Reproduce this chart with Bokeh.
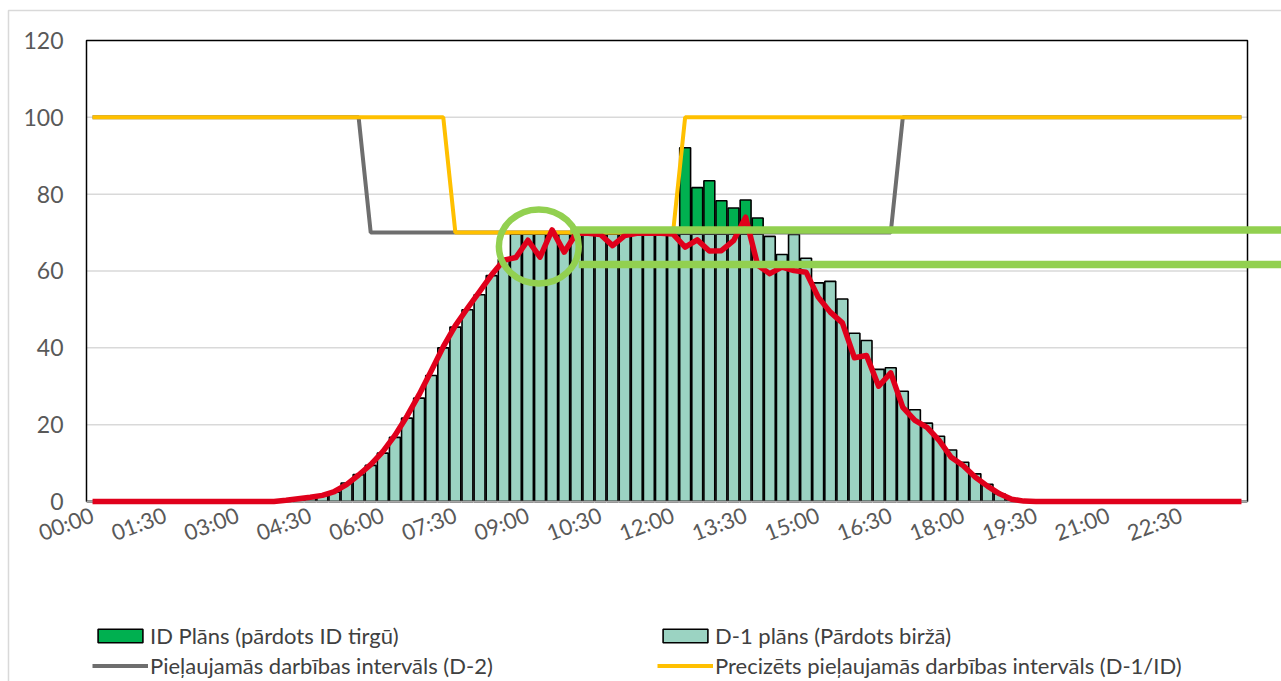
from bokeh.plotting import figure
from bokeh.models import Range1d, FixedTicker, Legend, LegendItem, ColumnDataSource
from bokeh.embed import file_html
from bokeh.resources import INLINE

# ---------------- data (15-minute intervals, 96 categories) ----------------
CATEGORIES = [f"{h:02d}:{m:02d}" for h in range(24) for m in (0, 15, 30, 45)]

TICK_LABELS = ["00:00", "01:30", "03:00", "04:30", "06:00", "07:30", "09:00", "10:30",
               "12:00", "13:30", "15:00", "16:30", "18:00", "19:30", "21:00", "22:30"]

Y_TICKS = [0, 20, 40, 60, 80, 100, 120]
GRID_Y = [20, 40, 60, 80, 100]

# D-1 plāns (Pārdots biržā)
D1_PLAN = [0, 0, 0, 0, 0, 0, 0, 0, 0, 0, 0, 0, 0, 0, 0, 0,
           0, 0.4, 0.8, 1.5, 2.4, 4.8, 7.0, 9.4, 12.6, 16.7, 21.7, 26.9, 32.8, 40.0, 45.4, 49.9,
           53.8, 58.8, 63.0, 69.6, 69.6, 69.6, 69.6, 69.6, 69.6, 69.6, 69.6, 69.6, 69.6, 69.6, 69.6, 69.6,
           69.6, 69.6, 69.6, 69.6, 69.6, 69.6, 69.6, 69.6, 69.0, 64.3, 69.5, 63.3, 56.9, 57.3, 52.7, 43.8,
           41.9, 34.4, 34.8, 28.7, 23.9, 20.4, 17.0, 13.4, 10.2, 7.2, 4.5, 2.0, 0.5, 0, 0, 0,
           0, 0, 0, 0, 0, 0, 0, 0, 0, 0, 0, 0, 0, 0, 0, 0]

# ID Plāns (pārdots ID tirgū) - additional volume on top of D-1
ID_PLAN = [0, 0, 0, 0, 0, 0, 0, 0, 0, 0, 0, 0, 0, 0, 0, 0,
           0, 0, 0, 0, 0, 0, 0, 0, 0, 0, 0, 0, 0, 0, 0, 0,
           0, 0, 0, 0, 0, 0, 0, 0, 0, 0, 0, 0, 0, 0, 0, 0,
           0, 22.5, 12.1, 13.9, 8.7, 6.8, 8.9, 4.2, 0, 0, 0, 0, 0, 0, 0, 0,
           0, 0, 0, 0, 0, 0, 0, 0, 0, 0, 0, 0, 0, 0, 0, 0,
           0, 0, 0, 0, 0, 0, 0, 0, 0, 0, 0, 0, 0, 0, 0, 0]

# Pieļaujamās darbības intervāls (D-2)
D2_LIMIT = [100, 100, 100, 100, 100, 100, 100, 100, 100, 100, 100, 100, 100, 100, 100, 100,
            100, 100, 100, 100, 100, 100, 100, 70, 70, 70, 70, 70, 70, 70, 70, 70,
            70, 70, 70, 70, 70, 70, 70, 70, 70, 70, 70, 70, 70, 70, 70, 70,
            70, 70, 70, 70, 70, 70, 70, 70, 70, 70, 70, 70, 70, 70, 70, 70,
            70, 70, 70, 100, 100, 100, 100, 100, 100, 100, 100, 100, 100, 100, 100, 100,
            100, 100, 100, 100, 100, 100, 100, 100, 100, 100, 100, 100, 100, 100, 100, 100]

# Precizēts pieļaujamās darbības intervāls (D-1/ID)
ID_LIMIT = [100, 100, 100, 100, 100, 100, 100, 100, 100, 100, 100, 100, 100, 100, 100, 100,
            100, 100, 100, 100, 100, 100, 100, 100, 100, 100, 100, 100, 100, 100, 70, 70,
            70, 70, 70, 70, 70, 70, 70, 70, 70, 70, 70, 70, 70, 70, 70, 70,
            70, 100, 100, 100, 100, 100, 100, 100, 100, 100, 100, 100, 100, 100, 100, 100,
            100, 100, 100, 100, 100, 100, 100, 100, 100, 100, 100, 100, 100, 100, 100, 100,
            100, 100, 100, 100, 100, 100, 100, 100, 100, 100, 100, 100, 100, 100, 100, 100]

# actual generation (red line)
ACTUAL = [0, 0, 0, 0, 0, 0, 0, 0, 0, 0, 0, 0, 0, 0, 0, 0,
          0.3, 0.7, 1.1, 1.6, 2.6, 4.4, 6.9, 9.6, 13.0, 17.2, 22.2, 27.8, 34.0, 40.3, 45.8, 50.3,
          54.6, 59.0, 62.8, 63.5, 68.0, 63.6, 70.7, 64.9, 69.8, 69.8, 69.5, 66.6, 69.2, 69.8, 69.8, 69.8,
          69.6, 66.2, 68.1, 65.2, 65.3, 67.9, 74.0, 61.5, 59.3, 61.0, 60.1, 59.7, 53.2, 49.3, 46.5, 37.4,
          38.0, 30.0, 33.5, 24.5, 21.1, 19.3, 15.9, 11.5, 9.3, 6.3, 4.0, 2.0, 0.6, 0.1, 0, 0,
          0, 0, 0, 0, 0, 0, 0, 0, 0, 0, 0, 0, 0, 0, 0, 0]

# highlight annotation (green ellipse + two guide lines)
ELLIPSE_X, ELLIPSE_Y, ELLIPSE_W, ELLIPSE_H = 36.9, 66.4, 6.6, 19.3
GUIDE_Y = [70.7, 61.7]
GUIDE_X0 = [39.5, 40.2]

# ---------------- layout constants ----------------
W, H = 1281, 681
X_MIN, X_MAX = -0.5, 95.5
Y_MIN, Y_MAX = 0, 120
# the frame fills the whole canvas; the plot box (86..1247 px, 40..501 px) is drawn inside it
X_VIEW = (-7.611, 98.311)
Y_VIEW = (-46.855, 130.412)
OUTER_X, OUTER_Y = -6.95, 127.8      # faint outer chart border (top-left)
TICK_OFFSET = 0.0
FONT = "Lato"
TEXT_COLOR = "#595959"

idx = list(range(len(CATEGORIES)))
tick_pos = [CATEGORIES.index(t) + TICK_OFFSET for t in TICK_LABELS]

p = figure(width=W, height=H, output_backend="svg", toolbar_location=None,
           x_range=Range1d(*X_VIEW), y_range=Range1d(*Y_VIEW),
           min_border_left=0, min_border_right=0, min_border_top=0, min_border_bottom=0)
p.outline_line_color = None
p.xgrid.visible = False
p.ygrid.visible = False
p.background_fill_color = "white"
p.border_fill_color = "white"

# faint outer chart-area border
p.line(x=[OUTER_X, OUTER_X, X_VIEW[1]], y=[Y_VIEW[0], OUTER_Y, OUTER_Y],
       line_color="#D9D9D9", line_width=1.5)

# grid lines limited to the plot area
p.segment(x0=[X_MIN] * len(GRID_Y), x1=[X_MAX] * len(GRID_Y), y0=GRID_Y, y1=GRID_Y,
          line_color="#D9D9D9", line_width=1.5)

# bars
d1_src = ColumnDataSource(dict(x=idx, top=D1_PLAN))
r_d1 = p.vbar(x="x", top="top", bottom=0, width=0.9, source=d1_src,
              fill_color="#9BD3C2", line_color="black", line_width=1.6)

id_x = [i for i in idx if ID_PLAN[i] > 0]
id_src = ColumnDataSource(dict(x=id_x, bottom=[D1_PLAN[i] for i in id_x],
                               top=[D1_PLAN[i] + ID_PLAN[i] for i in id_x]))
r_id = p.vbar(x="x", top="top", bottom="bottom", width=0.9, source=id_src,
              fill_color="#00B050", line_color="black", line_width=1.6)

# plot area frame and category axis line
p.quad(left=[X_MIN], right=[X_MAX], bottom=[Y_MIN], top=[Y_MAX], fill_color=None,
       line_color="black", line_width=1.5)
p.segment(x0=[X_MIN], x1=[X_MAX], y0=[Y_MIN], y1=[Y_MIN], line_color="#A6A6A6", line_width=1.5)

# limit lines
r_d2 = p.line(idx, D2_LIMIT, line_color="#6E6E6E", line_width=4)
r_idl = p.line(idx, ID_LIMIT, line_color="#FFC000", line_width=4)
p.line(idx, ACTUAL, line_color="#E0001B", line_width=5.5, line_join="round")

# annotation
p.ellipse(x=[ELLIPSE_X], y=[ELLIPSE_Y], width=[ELLIPSE_W], height=[ELLIPSE_H],
          fill_color=None, line_color="#92D050", line_width=6.5)
p.segment(x0=GUIDE_X0, x1=[X_VIEW[1]] * len(GUIDE_Y), y0=GUIDE_Y, y1=GUIDE_Y,
          line_color="#92D050", line_width=7.5)

# axes (drawn at the plot box edges inside the frame)
p.yaxis.fixed_location = X_MIN
p.yaxis.ticker = FixedTicker(ticks=Y_TICKS)
p.yaxis.axis_line_color = None
p.yaxis.major_tick_line_color = None
p.yaxis.minor_tick_line_color = None
p.yaxis.major_tick_in = 0
p.yaxis.major_tick_out = 0
p.yaxis.minor_tick_out = 0
p.yaxis.major_label_standoff = 23
p.yaxis.major_label_text_font = FONT
p.yaxis.major_label_text_font_size = "23px"
p.yaxis.major_label_text_color = TEXT_COLOR

p.xaxis.fixed_location = Y_MIN
p.xaxis.ticker = FixedTicker(ticks=tick_pos)
p.xaxis.major_label_overrides = {t: lab for t, lab in zip(tick_pos, TICK_LABELS)}
p.xaxis.axis_line_color = None
p.xaxis.major_tick_line_color = None
p.xaxis.minor_tick_line_color = None
p.xaxis.major_tick_in = 0
p.xaxis.major_tick_out = 0
p.xaxis.minor_tick_out = 0
p.xaxis.major_label_orientation = 0.36
p.xaxis.major_label_standoff = 12
p.xaxis.major_label_text_font = FONT
p.xaxis.major_label_text_font_size = "22px"
p.xaxis.major_label_text_color = TEXT_COLOR

# legend (two columns below the chart)
legend = Legend(items=[
    LegendItem(label="ID Plāns (pārdots ID tirgū)", renderers=[r_id]),
    LegendItem(label="Pieļaujamās darbības intervāls (D-2)", renderers=[r_d2]),
    LegendItem(label="D-1 plāns (Pārdots biržā)", renderers=[r_d1]),
    LegendItem(label="Precizēts pieļaujamās darbības intervāls (D-1/ID)", renderers=[r_idl]),
], location=(92, 2), orientation="vertical", ncols=2,
    glyph_width=56, glyph_height=17, label_standoff=2, label_width=504, label_height=20,
    spacing=3, padding=0, margin=0, border_line_color=None, background_fill_alpha=0,
    label_text_font=FONT, label_text_font_size="22px", label_text_color="#404040")
p.add_layout(legend, "center")

open("out.html", "w").write(file_html(p, INLINE))
